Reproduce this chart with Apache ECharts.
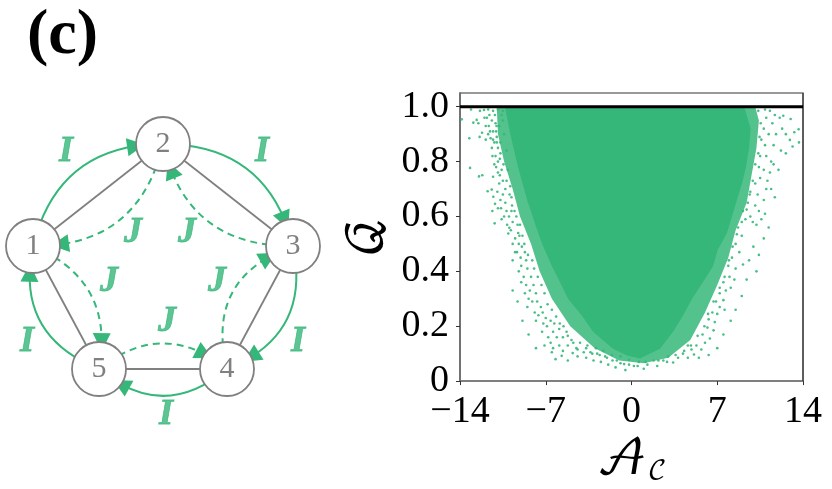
<!DOCTYPE html>
<html><head><meta charset="utf-8">
<script src="https://cdn.jsdelivr.net/npm/echarts@6/dist/echarts.min.js"></script>
<style>html,body{margin:0;padding:0;background:#fff}#c{width:832px;height:489px}</style>
</head><body><div id="c"></div>
<script>
const GREEN = '#35b779', GREY = '#808080';
const xTicks = [-14, -7, 0, 7, 14];
const yTicks = [0, 0.2, 0.4, 0.6, 0.8, 1.0];
const yTickLabels = ['0', '0.2', '0.4', '0.6', '0.8', '1.0'];
const boundLine = [[-14, 1], [14, 1]];
const rightSpine = [[14, 0], [14, 1.05]];
// solid body of the point cloud (A, Q outline)
const coreA = [-10.33,-9.92,-9.27,-8.53,-7.63,-7.22,-6.49,-5.84,-5.18,-4.04,-3.14,-1.51,-0.37,0.69,2.33,3.39,4.2,4.94,5.84,6.65,7.06,7.22,7.8,8.2,8.61,9.02,9.35,9.6,9.72,9.2];
const coreQ = [1,0.905,0.781,0.662,0.542,0.492,0.419,0.361,0.3,0.238,0.18,0.118,0.093,0.082,0.118,0.18,0.238,0.3,0.361,0.419,0.481,0.492,0.542,0.6,0.662,0.72,0.781,0.85,0.92,1];
// stippled fringe (half density)
const bandA = [-11,-10.9,-10.4,-9.7,-9.1,-8.2,-7.5,-6.5,-5,-3,-1,1,3,4.8,6,7,7.9,8.5,9.4,9.8,10.2,10.4,10.1];
const bandQ = [1,0.9,0.8,0.7,0.6,0.5,0.4,0.3,0.2,0.12,0.075,0.065,0.085,0.15,0.25,0.35,0.45,0.55,0.65,0.75,0.85,0.95,1];
// individually readable outlying points
const fringe = [
[-13.86,.954],[-13.24,.885],[-13.18,.777],[-13.1,.99],[-12.91,.942],[-12.64,.952],[-12.5,.94],[-12.45,.746],[-12.18,.75],[-11.74,.692],[-11.41,.698],[-11.28,.672],[-11.36,.62],[-11.14,.646],[-11.17,.575],[-10.6,.59],[-10.06,.538],[-9.97,.559],
[-12.37,.985],[-12.04,.988],[-11.7,.99],[-11.3,.985],[-10.9,.99],[-10.5,.985],[-9.9,.99],[-9.5,.985],[-12.4,.89],[-12.2,.905],[-12.0,.96],[-11.9,.93],[-11.6,.97],[-11.4,.95],[-11.7,.9],[-11.5,.885],[-11.9,.88],[-11.3,.91],[-11.1,.94],[-11.2,.87],[-11.4,.85],[-11,.89],[-10.9,.85],[-11.1,.82],[-11.2,.79],[-10.9,.8],[-10.7,.87],[-10.7,.83],[-10.5,.95],[-10.4,.9],[-10.6,.77],[-10.9,.76],[-11.3,.745],[-10.5,.73],[-10.8,.72],[-10.3,.7],[-10.5,.68],[-10.3,.65],[-10.7,.66],[-10.9,.63],[-10.2,.62],[-10,.6],[-10.4,.6],[-9.7,.58],[-9.8,.62],[-9.5,.52],[-9.2,.5],[-9.7,.5],[-10.8,.93],[-10.6,.97],[-10.2,.84],[-10.1,.77],[-9.9,.71],[-9.8,.67],[-9.4,.6],[-9.1,.57],[-8.9,.53],[-9.35,.47],[-9.05,.45],[-8.7,.47],
[-11.8,.96],[-11.65,.93],[-11.55,.91],[-11.3,.88],[-11.05,.91],[-11.35,.82],[-11.05,.78],[-10.75,.75],[-10.95,.69],[-10.65,.63],[-10.15,.57],[-9.85,.55],[-9.25,.54],[-8.95,.49],
[-11.15,.97],[-11.02,.93],[-11.0,.87],[-10.75,.81],[-10.45,.79],[-10.2,.73],[-9.95,.68],[-9.75,.64],[-9.55,.62],[-9.3,.57],[-9.15,.53],[-8.75,.5],[-8.45,.46],[-8.1,.44],[-7.95,.41],[-7.65,.38],[-7.35,.35],[-7.1,.32],[-6.85,.28],[-6.5,.26],[-6.15,.235],[-5.85,.21],[-5.55,.2],[-5.2,.165],[-4.75,.14],[-4.4,.115],[-3.7,.12],[-3.35,.105],[-2.8,.1],[-2.15,.09],[-1.55,.075],[-0.9,.065],[-0.2,.06],[0.5,.055],[1.15,.07],[2.2,.075],[2.9,.07],[3.6,.095],[4.3,.11],[4.85,.13],[5.4,.165],[5.95,.2],[6.25,.245],[6.7,.29],[7.2,.34],[7.6,.38],[7.95,.44],[8.25,.49],[8.6,.535],[9.0,.58],[9.4,.625],[9.65,.68],[9.9,.73],[10.1,.79],[10.35,.83],[10.45,.89],[10.55,.94],[10.35,.985],
[-9.5,.47],[-9.7,.44],[-9.0,.42],[-8.6,.44],[-9.2,.4],[-8.8,.38],[-8.5,.41],[-9,.36],[-8.6,.35],[-8.2,.38],[-8.7,.32],[-8.3,.33],[-8,.35],[-8.1,.29],[-7.8,.32],[-8.5,.27],[-7.7,.29],[-8.4,.3],[-7.9,.25],[-7.4,.27],[-7.6,.24],[-7.8,.22],[-7.25,.25],[-7.2,.21],[-7,.23],[-6.9,.2],[-6.6,.22],[-7.3,.18],[-6.8,.16],[-6.4,.18],[-6.3,.21],[-6.6,.14],[-6.1,.16],[-5.9,.19],[-6.4,.12],[-5.9,.13],[-5.6,.16],[-5.3,.18],[-5.6,.11],[-5.2,.13],[-4.9,.15],[-6.5,.105],[-5.7,.092],[-4.8,.102],[-4.5,.12],[-4.2,.14],[-4.4,.09],[-3.9,.105],[-3.6,.13],[-3.7,.085],[-3.2,.1],[-2.9,.12],[-3.1,.075],[-2.6,.095],[-2.3,.11],[-2.5,.07],[-2,.085],[-1.6,.095],[-1.9,.06],[-1.2,.075],[-0.9,.09],[-1.3,.05],[-0.6,.062],[-0.2,.078],[-0.5,.04],[0.2,.055],[0.6,.07],
[1,.045],[1.3,.06],[1.8,.075],[2.1,.055],[2.6,.075],[3,.09],[3.4,.068],[3.8,.085],[4.2,.1],[4.6,.085],[4.9,.115],[5.1,.097],[4.6,.13],[5.3,.13],[5.7,.115],[6,.14],[5.8,.17],[6.4,.155],[6.2,.195],[6.7,.185],[6.3,.225],[6.8,.215],[7,.245],[6.6,.25],[7.2,.27],[7.5,.295],[6.9,.29],[7.6,.26],[7.2,.32],[7.7,.33],[8.1,.34],[7.5,.36],[8,.38],[8.4,.37],[7.9,.42],[8.5,.41],[9.1,.425],[8.2,.45],[8.8,.47],[8.5,.5],[9,.53],[8.7,.56],[9.3,.59],[9.1,.62],[9.7,.6],[9.9,.58],[10.2,.57],[10.6,.59],[9.5,.65],[10.1,.64],[10.4,.62],[9.7,.69],[10.3,.68],[10.8,.66],[10.1,.72],[10.5,.74],[11,.7],[10.4,.78],[10.8,.77],[11.1,.73],[10.5,.82],[11,.82],[11.3,.76],[10.6,.88],[10.9,.86],[11.4,.8],[10.8,.92],[11.2,.9],[11.6,.86],[11,.96],[11.5,.94],[11.8,.9],[10.9,.99],[11.3,.985],[11.7,.97],[12.1,.96],[12.39,.967],[12.99,.955],[12.3,.92],[12.6,.9],[12.93,.879],[13.15,.855],[13.29,.907],[13.64,.918],[13.67,.87],[12.2,.84],[12.6,.83],[11.6,.79],[12,.77],[11.4,.7],[11.7,.67],[10.9,.61],[11.2,.56],[9.95,.49],[10.4,.46],[9.6,.44],[10.8,.52],[10.2,.4],[9.4,.37],[9,.31],[8.5,.26],[8.1,.22],[7.5,.17],[7,.12],[6.3,.095],[5.5,.085],[-9.7,.33],[-9.3,.29],[-8.9,.22],[-8.4,.17],[-7.8,.12],[-7.1,.13],[-6.2,.08],[-5.2,.075]
];
// ring diagram
const nodeNames = ['1', '2', '3', '4', '5'];
const nodeLayout = [[33, 246], [163, 144], [293, 246], [227, 369], [99, 369]];
const greyEdges = [['1','2'],['2','3'],['3','4'],['4','5'],['5','1']];
const solidArcs = [['1','2',.39],['2','3',.39],['3','4',.42],['4','5',.42],['5','1',.42]];
const dashedArcs = [['2','1',.4],['3','2',.4],['4','3',.45],['1','5',.4],['5','4',.4]];
const couplingLabels = [[66,152,'I'],[262,152,'I'],[298,342,'I'],[166,415,'I'],[27,342,'I'],[133,233,'J'],[187,233,'J'],[109,282,'J'],[217,282,'J'],[167,322,'J']];

const serif = '"Liberation Serif","DejaVu Serif",serif';
const mathFont = '"DejaVu Math TeX Gyre","DejaVu Serif","DejaVu Sans",serif';
function polygonSeries(A, Q, opacity) {
  return { type:'custom', xAxisIndex:0, yAxisIndex:0, silent:true, data:[0],
    renderItem:(p, api)=>({ type:'polygon', shape:{ points:A.map((a,i)=>api.coord([a,Q[i]])) }, style:{ fill:GREEN, opacity } }) };
}
const links = [
  ...greyEdges.map(e=>({source:e[0],target:e[1],symbol:['none','none'],lineStyle:{color:GREY,width:1.8,curveness:0,opacity:1}})),
  ...solidArcs.map(e=>({source:e[0],target:e[1],symbol:['none','triangle'],symbolSize:[0,18],lineStyle:{color:GREEN,width:2,curveness:e[2],opacity:1}})),
  ...dashedArcs.map(e=>({source:e[0],target:e[1],symbol:['none','triangle'],symbolSize:[0,18],lineStyle:{color:GREEN,width:2,type:[7,5],curveness:e[2],opacity:1}}))
];
const chart = echarts.init(document.getElementById('c'), null, {renderer:'canvas'});
chart.setOption({
  animation:false, backgroundColor:'#fff',
  title:{ text:'(c)', left:22, top:-1, textStyle:{ fontFamily:serif, fontWeight:'bold', fontSize:64, color:'#000' } },
  grid:[
    { left:460, top:93, width:343, height:290, show:true, borderColor:'#777', borderWidth:1.5, backgroundColor:'transparent' },
    { left:0, top:0, width:832, height:489 }
  ],
  xAxis:[
    { type:'value', gridIndex:0, min:-14, max:14, splitLine:{show:false},
      axisLine:{onZero:false,lineStyle:{color:'#777',width:1.5}}, axisTick:{customValues:xTicks,length:4,lineStyle:{color:'#333',width:1}},
      axisLabel:{customValues:xTicks,margin:12,fontFamily:serif,fontSize:38,color:'#000',formatter:v=>String(v).replace('-','\u2212')},
      name:'{a|\uD835\uDC9C}{b|\uD835\uDC9E}', nameLocation:'middle', nameGap:54,
      nameTextStyle:{ rich:{ a:{fontFamily:mathFont,fontSize:48,color:'#000'}, b:{fontFamily:mathFont,fontSize:26,color:'#000',padding:[22,0,0,0]} } } },
    { type:'value', gridIndex:1, min:0, max:832, show:false }
  ],
  yAxis:[
    { type:'value', gridIndex:0, min:0, max:1.05, splitLine:{show:false},
      axisLine:{onZero:false,lineStyle:{color:'#666',width:1.5}}, axisTick:{customValues:yTicks,length:4,lineStyle:{color:'#333',width:1}},
      axisLabel:{customValues:yTicks,margin:11,padding:[8,0,0,0],fontFamily:serif,fontSize:38,color:'#000',formatter:v=>yTickLabels[yTicks.indexOf(v)]},
      name:'\uD835\uDCAC', nameLocation:'middle', nameRotate:90, nameGap:68,
      nameTextStyle:{fontFamily:mathFont,fontSize:48,color:'#000'} },
    { type:'value', gridIndex:1, min:0, max:489, inverse:true, show:false }
  ],
  series:[
    polygonSeries(bandA, bandQ, 0.85),
    polygonSeries(coreA, coreQ, 1),
    { type:'scatter', xAxisIndex:0, yAxisIndex:0, data:fringe, symbolSize:2.6, silent:true, itemStyle:{color:GREEN,opacity:.9} },
    { type:'line', xAxisIndex:0, yAxisIndex:0, data:rightSpine, showSymbol:false, clip:false, silent:true, lineStyle:{color:'#222',width:1}, z:5 },
    { type:'line', xAxisIndex:0, yAxisIndex:0, data:boundLine, showSymbol:false, silent:true, lineStyle:{color:'#000',width:3}, z:5 },
    { type:'graph', coordinateSystem:'cartesian2d', xAxisIndex:1, yAxisIndex:1, layout:'none', silent:true,
      symbol:'circle', symbolSize:54, itemStyle:{color:'#fff',borderColor:GREY,borderWidth:1.8,opacity:1},
      label:{show:true,position:'inside',formatter:'{b}',fontFamily:serif,fontSize:30,color:GREY},
      data:nodeNames.map((n,i)=>({name:n,value:nodeLayout[i]})), links, z:3 },
    { type:'scatter', xAxisIndex:1, yAxisIndex:1, symbolSize:0, silent:true, data:couplingLabels, z:4,
      label:{show:true,position:'inside',formatter:p=>p.value[2],fontFamily:serif,fontStyle:'italic',fontWeight:'bold',fontSize:36,color:GREEN,textBorderColor:GREEN,textBorderWidth:0.8} }
  ]
});
</script></body></html>
